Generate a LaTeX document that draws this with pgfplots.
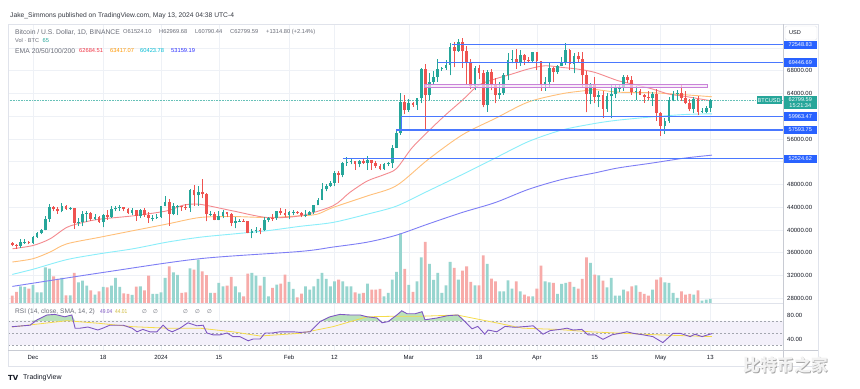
\documentclass[border=0pt]{standalone}
\usepackage{fontspec}
\setmainfont{Liberation Sans}
\newfontfamily\djv{DejaVu Sans}
\newfontfamily\cjk{Noto Sans CJK SC}
\usepackage{pgfplots}
\pgfplotsset{compat=1.18}
\usepackage{pgfplotstable}

\definecolor{upc}{HTML}{26A69A}
\definecolor{dnc}{HTML}{EF5350}
\definecolor{upv}{HTML}{97D5CF}
\definecolor{dnv}{HTML}{F7ABA9}
\definecolor{gridc}{HTML}{EEF1F6}
\definecolor{txt}{HTML}{131722}
\definecolor{gry}{HTML}{6A6D78}
\definecolor{emaA}{HTML}{F48A8F}
\definecolor{emaB}{HTML}{FFC07A}
\definecolor{emaC}{HTML}{8AEEFA}
\definecolor{emaD}{HTML}{7E7EF5}
\definecolor{valA}{HTML}{F23645}
\definecolor{valB}{HTML}{FF9800}
\definecolor{valC}{HTML}{00BCD4}
\definecolor{valD}{HTML}{2A2EFF}
\definecolor{lvl}{HTML}{2962FF}
\definecolor{lvlline}{HTML}{4A78FF}
\definecolor{purl}{HTML}{C982D8}
\definecolor{purf}{HTML}{F4E6F7}
\definecolor{rsil}{HTML}{7E57C2}
\definecolor{rsib}{HTML}{F3F0FA}
\definecolor{rsis}{HTML}{F5DC4A}
\definecolor{obf}{HTML}{B9E2BB}
\definecolor{framec}{HTML}{E0E3EB}
\definecolor{axisc}{HTML}{C8CBD3}
\definecolor{dashc}{HTML}{A3A6AF}

\newcommand\fA{\fontsize{6.75}{7.8}\selectfont}
\newcommand\fTi{\fontsize{6.8}{7.8}\selectfont}
\newcommand\fN{\fontsize{5.75}{6.8}\selectfont}
\newcommand\fT{\fontsize{6}{7}\selectfont}
\newcommand\fL{\fontsize{5.6}{6.6}\selectfont}

\pgfplotsset{
  candle/.style={only marks, mark=none, mark size=0pt, mark options={draw=none,fill=none},
    error bars/.cd, y dir=plus, y explicit, error mark=none},
  base/.style={at={(8bp,86bp)}, anchor=south west, scale only axis,
    width=775bp, height=278bp, xmin=-6.05, xmax=181.6},
}

\pgfplotstableread{
d o h l c v
-3 37240 38400 36880 37830 33.3
-2 37830 38420 37600 37850 32
0 37720 38950 37600 38690 36
1 38690 39680 38650 39460 21.3
2 39460 40200 39280 39970 21.3
3 39970 42420 39950 41980 71.3
4 41980 44490 41420 44080 68.7
7 43290 44700 43080 44170 50
9 43720 44040 43550 43790 15.3
11 41240 42100 40680 41450 41.3
12 41450 43430 40670 42890 44.7
13 42890 43400 41420 43020 34.7
15 41940 42730 41680 42260 16.7
17 41370 42760 40530 42660 32
19 42270 44280 42180 43650 34.7
20 43650 44240 43320 43860 50
21 43860 44400 43400 43990 32
24 43010 43800 42720 43580 16
26 42510 43680 42100 43440 33.3
29 42070 42600 41520 42140 18
30 42140 42900 41960 42280 18
31 42280 44200 42180 44180 21.3
32 44180 45900 44150 44950 50
34 42850 44730 42620 44150 61.3
35 44150 44340 42630 44160 56
38 43930 47250 43200 46970 69.3
40 46110 47700 44300 46630 86.7
43 42780 43260 42440 42840 20
45 41730 43400 41720 42510 40
46 42510 43580 42050 43140 33.3
49 41260 42200 40280 41620 33.3
50 41620 41870 41500 41660 21.3
53 39510 40130 38550 39890 60
54 39890 40560 39480 40080 54.7
56 39930 42200 39820 41810 52
57 41810 42200 41390 42120 13.3
59 42030 43310 41800 43300 36.7
62 42580 43290 41880 43080 42
63 43080 43490 42570 43190 28
66 42580 43500 42260 42660 33.3
67 42660 43400 42570 43090 26.7
68 43090 44380 42780 44340 33.3
69 44340 45600 44330 45290 48
70 45290 48200 45240 47130 60
71 47130 48170 46800 47750 48
72 47750 48590 47550 48290 33.3
73 48290 50330 47710 49960 43.3
75 49700 52040 49270 51800 43.3
76 51800 52820 51300 51920 33.3
77 51920 52580 51550 52130 33.3
79 51650 52360 51000 52120 18.7
81 51780 52980 50620 52260 38.7
85 50740 51700 50580 51560 13.3
86 51560 51950 51280 51730 20
87 51730 54940 50900 54480 46.7
88 54480 57550 54450 57050 62
89 57050 64000 56700 62500 139
91 61130 63100 60800 62390 36
93 62030 63230 61150 63130 43.3
94 63130 68500 62300 68250 91.3
96 63720 67640 62800 66070 78
97 66070 67990 65560 66850 46
98 66850 69990 66080 68300 60
99 68300 68680 67960 68500 20
100 68500 69940 68130 69020 35.3
101 69020 72800 67190 72100 82
103 71470 73650 71330 73070 46.7
107 65300 68900 64540 68390 35.3
110 61940 68100 60780 67840 78
113 63800 65970 63000 64080 23.3
114 64080 67620 63800 67210 23.3
115 67210 71150 66390 69880 45.3
116 69880 71560 69280 69990 28.7
118 69460 71550 68900 70780 23.3
121 69650 71370 69570 71330 13.3
124 65460 66900 64500 65980 43.3
125 65980 69300 65060 68510 41.3
127 67840 69000 67450 68900 18
128 68900 70330 68850 69360 38
129 69360 72800 69040 71620 40
131 69140 71170 67520 70590 32
135 63900 65840 62130 65740 80
137 63420 64360 61610 63790 55.3
139 61280 64130 60800 63470 31.3
140 63470 65480 59600 63820 50
141 63820 65420 63170 64940 14.7
142 64940 65670 64220 64990 14.7
143 64940 67230 64500 66840 26.7
146 64280 65290 62800 64490 35.3
150 63120 64230 61800 63840 26.7
153 58250 59600 56940 59120 41.3
154 59120 63320 58850 62890 40
155 62890 64500 62600 63890 20
156 63890 64620 62900 64030 10
160 61190 63420 60650 63070 16.7
162 60790 61490 60490 60850 4.7
163 60820 61820 60630 61480 6.7
164 61524.10 62969.68 60790.44 62799.59 8
}\upT

\pgfplotstableread{
d o h l c v
-5 37720 37820 37150 37450 14.7
-4 37450 37560 36750 37240 22
-1 37850 38150 37500 37720 28.7
5 44080 44300 43330 43770 53.3
6 43770 44050 42820 43290 48
8 44170 44360 43580 43720 15.3
10 43790 43800 40220 41240 60
14 43020 43090 41660 41940 25.3
16 42260 42440 41250 41370 23.3
18 42660 43490 41800 42270 31.3
22 43990 44050 43330 43730 19.3
23 43730 43950 42760 43010 18
25 43580 43600 41630 42510 32.7
27 43440 43800 42300 42580 25.3
28 42580 43130 41300 42070 54.7
33 44950 45500 40750 42850 73.3
36 44160 44230 43400 43970 20
37 43970 44500 43600 43930 21.3
39 46970 47900 44300 46110 66.7
41 46630 48970 45600 46350 63.3
42 46350 46500 41500 42780 55.7
44 42840 43080 41720 41730 20
47 43140 43200 42200 42740 34.7
48 42740 42930 40680 41260 52
51 41660 41880 41500 41570 13.3
52 41570 41670 39430 39510 58.7
55 40080 40300 39250 39930 34.7
58 42120 42840 41620 42030 30
60 43300 43880 42680 42950 38.7
61 42950 43740 42270 42580 56.7
64 43190 43380 42880 42990 11.3
65 42990 43120 42250 42580 18.7
74 49960 50370 48300 49700 46.7
78 52130 52200 50620 51650 21.3
80 52120 52490 51650 51780 20
82 52260 52370 50620 51840 26.7
83 51840 52050 50930 51300 26.7
84 51300 51540 50500 50740 28
90 62500 63680 60360 61130 68
92 62390 62430 61660 62030 22
95 68250 69170 57700 63720 122
102 72100 73000 68620 71470 70
104 73070 73780 68560 71390 64.7
105 71390 72420 65630 69500 73.3
106 69500 70040 64780 65300 42
108 68390 68920 66600 67600 35.3
109 67600 68120 61560 61940 95.3
111 67840 68240 64530 65500 48.7
112 65500 66650 62260 63800 43.3
117 69990 71770 68360 69460 43.3
119 70780 70920 69080 69900 16.7
120 69900 70360 69560 69650 13.3
122 71330 71350 68100 69700 28.7
123 69700 69700 64500 65460 74.7
126 68510 68720 66000 67840 40
130 71620 71760 68210 69140 42
132 70590 71260 69570 70060 28.7
133 70060 71230 65090 67190 48
134 67190 67930 60660 63900 91.3
136 65740 66870 62300 63420 56.7
138 63790 64500 59770 61280 44.7
144 66840 67200 65860 66410 23.3
145 66410 67080 63800 64280 33.3
147 64490 64800 63790 63770 22
148 63770 63920 62400 63460 18
149 63460 64360 62810 63120 14.7
151 63840 64740 59190 60610 46.7
152 60610 60780 56550 58250 51.3
157 64030 65500 62700 63160 23.3
158 63160 64390 62130 62330 16.7
159 62330 62990 60890 61190 18
161 63070 63470 60190 60790 25.3
}\dnT

\pgfplotstableread{
x r
-5.1 60.5
-0.7 63
1 72
3.4 80
5.3 81
7.7 77
9.4 80
10.2 58
11.4 58
13.3 60
15.7 55
16.9 58
18.6 63
21.8 63
24 58
25.2 52
26.6 56
28.3 52
30 52
31.5 63
32.7 55
33.7 52
35.6 58
37.5 67
39.7 62
41.2 63
42.1 50
43.6 47
45.3 47
47 50
48.4 44
50.1 44
52.1 37
53.3 40
55 40
56.2 50
57.9 50
59.8 52
61.5 52
63 52
64.6 51
67.1 52
69.5 69
71.9 77
74.3 81
76.8 80
79.2 80
80.9 77
83.3 75
84.5 67
86 69
88.1 80
89.3 87
90.6 82
92.5 82
94.2 85.5
94.9 72
97.8 75
100.5 79
102.9 80
104.6 69
106.3 57
107.7 61
109.4 48
110.2 55
112.3 52
114.3 61
116.7 59.5
119.6 61
121.1 62
123.5 48
125.2 54
127.6 56
129.3 58
130.8 55
132.9 56
134.4 47
136.1 47
138 39.5
140.2 47
142.1 49.5
143.8 52
145.3 49.5
147.7 47
150.1 44
152.5 34
155 49.5
156.7 49.5
159.1 44
160.3 48
162 44
164.4 49.04
}\rsiT

\pgfplotstableread{
x s
-5.1 60
8.2 70.5
16.2 66
24.2 60.5
32.4 58
40.4 58
48.4 52
55 45
64.6 49.5
72.6 60.5
80.9 77
88.1 78
94.4 78
102.7 80
110.7 69
118.6 58
126.9 56
134.9 52
142.9 49.5
151.1 47
164.4 44.01
}\smaT

\begin{document}
\begin{tikzpicture}
\useasboundingbox (0bp,0bp) rectangle (860bp,389bp);
\fill[white] (0bp,0bp) rectangle (860bp,389bp);

% grid + price tick labels
\begin{axis}[base, ymin=27174, ymax=76032,
  axis line style={draw=none}, major tick length=0pt, scaled y ticks=false,
  xtick={0,17,31,45,62,73,91,108,122,136,152,164}, xticklabels={},
  ytick={28000,32000,...,72000},
  yticklabels={28000.00,32000.00,36000.00,40000.00,44000.00,48000.00,{},56000.00,{},64000.00,68000.00,{}},
  yticklabel pos=right,
  yticklabel style={font=\fT, text=txt, anchor=west, xshift=4bp, inner sep=0pt},
  grid=major, major grid style={gridc, line width=0.6bp}]
\addplot[draw=none] coordinates {(0,30000)};
\end{axis}

% volume
\begin{axis}[base, ymin=0, ymax=556, hide axis]
\addplot[ybar, bar width=2.8bp, bar shift=0pt, fill=upv, draw=none] table[x=d,y=v]{\upT};
\addplot[ybar, bar width=2.8bp, bar shift=0pt, fill=dnv, draw=none] table[x=d,y=v]{\dnT};
\end{axis}

% price
\begin{axis}[base, ymin=27174, ymax=76032, hide axis, clip=false]
% EMA 200
\addplot[emaD, line width=0.9bp, smooth] coordinates {
(-5,30090) (17.5,32600) (40.4,34960) (64.6,36230) (72.6,37000) (80.9,37860) (88,39100)
(95.6,41040) (103.9,43080) (111.9,44820) (119.9,47130) (128,48870) (136,50030)
(141.6,50900) (149.9,51770) (157.8,52640) (164.4,53159.19)};
% EMA 100
\addplot[emaC, line width=0.9bp, smooth] coordinates {
(-5,32200) (0,33100) (8.2,34800) (16.2,35830) (24.2,36700) (32.4,37860) (40.4,38730)
(48.4,39300) (56.7,39880) (64.6,40640) (72.6,41330) (80.9,42780) (88,44200)
(95.6,46840) (103.9,49740) (111.9,52640) (119.9,55530) (128,57560) (136,58720)
(141.6,59300) (149.9,59880) (157.8,60300) (164.4,60423.78)};
% EMA 50
\addplot[emaB, line width=0.9bp, smooth] coordinates {
(-5,34380) (0,34960) (4.1,36120) (8.2,37570) (16.2,38730) (24.2,39880) (32.4,41040)
(40.4,42200) (48.4,42370) (56.7,42200) (64.6,42490) (68.8,42780) (72.6,43950)
(80.9,45980) (88,47800) (95.6,52350) (103.9,56700) (111.9,59600) (119.9,62490)
(128,63940) (133.7,64500) (136,64700) (141.6,64230) (149.9,64120) (157.8,63770) (164.4,63417.07)};
% EMA 20
\addplot[emaA, line width=0.9bp, smooth] coordinates {
(-5,36700) (0,37280) (4.1,38440) (8.2,40470) (12.1,41330) (16.2,41910) (24.2,42490)
(32.4,43360) (36.3,44350) (40.4,44520) (48.4,43360) (56.7,42200) (64.6,42490)
(72.6,44240) (76.7,46600) (80.9,48600) (84.9,49700) (88,50800) (91.7,54380)
(95.6,57270) (99.8,60170) (103.9,62780) (107.8,65390) (111.9,66550) (116,67420)
(119.9,68290) (124,68870) (128,68580) (131.8,68290) (136,67710) (141.6,66260)
(145.5,65600) (149.9,64800) (153.9,63900) (157.8,63500) (161,63100) (164.4,62684.51)};

% current price dotted
\addplot[upc!70, line width=0.6bp, densely dotted] coordinates {(-6.05,62799.59) (181.6,62799.59)};

% candles: wicks and bodies
\addplot[candle, error bar style={upc, line width=0.8bp}]
  table[x=d, y=l, y error expr=\thisrow{h}-\thisrow{l}] {\upT};
\addplot[candle, error bar style={dnc, line width=0.8bp}]
  table[x=d, y=l, y error expr=\thisrow{h}-\thisrow{l}] {\dnT};
\addplot[candle, error bar style={upc, line width=2.7bp}]
  table[x=d, y=o, y error expr=\thisrow{c}-\thisrow{o}] {\upT};
\addplot[candle, error bar style={dnc, line width=2.7bp}]
  table[x=d, y=c, y error expr=\thisrow{o}-\thisrow{c}] {\dnT};

% purple zone
\addplot[draw=purl, fill=purf, fill opacity=0.7, line width=0.9bp] coordinates {
(94.9,65040) (163.4,65040) (163.4,65570) (94.9,65570) (94.9,65040)};

% horizontal levels
\addplot[lvlline, line width=1.3bp] coordinates {(101.5,72548.83) (181.6,72548.83)};
\addplot[lvlline, line width=1.3bp] coordinates {(98,69446.69) (181.6,69446.69)};
\addplot[lvlline, line width=1.3bp] coordinates {(89.3,59963.47) (181.6,59963.47)};
\addplot[lvlline, line width=1.3bp] coordinates {(88,57593.75) (181.6,57593.75)};
\addplot[lvlline, line width=1.3bp] coordinates {(89.3,57593.75) (89.3,59963.47)};
\addplot[lvlline, line width=1.3bp] coordinates {(75,52524.62) (181.6,52524.62)};

% right-axis labels
\node[fill=lvl, text=white, font=\fL, anchor=west, inner sep=0.5bp, minimum width=33bp,
  minimum height=8.5bp, xshift=0.6bp] at (axis cs:181.6,72548.83) {72548.83};
\node[fill=lvl, text=white, font=\fL, anchor=west, inner sep=0.5bp, minimum width=33bp,
  minimum height=8.5bp, xshift=0.6bp] at (axis cs:181.6,69446.69) {69446.69};
\node[fill=lvl, text=white, font=\fL, anchor=west, inner sep=0.5bp, minimum width=33bp,
  minimum height=8.5bp, xshift=0.6bp] at (axis cs:181.6,59963.47) {59963.47};
\node[fill=lvl, text=white, font=\fL, anchor=west, inner sep=0.5bp, minimum width=33bp,
  minimum height=8.5bp, xshift=0.6bp] at (axis cs:181.6,57593.75) {57593.75};
\node[fill=lvl, text=white, font=\fL, anchor=west, inner sep=0.5bp, minimum width=33bp,
  minimum height=8.5bp, xshift=0.6bp] at (axis cs:181.6,52524.62) {52524.62};
\node[fill=upc, text=white, font=\fL, anchor=east, inner sep=1bp, minimum height=8bp, xshift=-1.2bp]
  at (axis cs:181.6,62799.59) {BTCUSD};
\node[fill=upc, text=white, font=\fL, anchor=north west, inner sep=1.2bp, minimum width=33bp,
  align=center, xshift=0.6bp, yshift=4.3bp] at (axis cs:181.6,62799.59) {62799.59\\[-0.5bp]15:21:34};
\end{axis}

% RSI pane
\begin{axis}[at={(8bp,39bp)}, anchor=south west, scale only axis,
  width=775bp, height=46bp,
  xmin=-6.05, xmax=181.6, ymin=21.7, ymax=98.3,
  axis line style={draw=none}, major tick length=0pt,
  xtick={0,17,31,45,62,73,91,108,122,136,152,164},
  xticklabels={Dec,18,2024,15,Feb,12,Mar,18,Apr,15,May,13},
  xticklabel style={font=\fT, text=txt, yshift=-1.5bp},
  ytick={40,80}, yticklabels={40.00,80.00}, yticklabel pos=right,
  yticklabel style={font=\fT, text=txt, anchor=west, xshift=4bp, inner sep=0pt},
  xmajorgrids, major grid style={gridc, line width=0.6bp}]
\addplot[fill=rsib, draw=none] coordinates {(-6.05,30) (181.6,30) (181.6,70) (-6.05,70) (-6.05,30)};
\addplot[dashc, line width=0.5bp, dash pattern=on 2bp off 2bp] coordinates {(-6.05,70) (181.6,70)};
\addplot[dashc, line width=0.5bp, dash pattern=on 2bp off 2bp] coordinates {(-6.05,50) (181.6,50)};
\addplot[dashc, line width=0.5bp, dash pattern=on 2bp off 2bp] coordinates {(-6.05,30) (181.6,30)};
\addplot[fill=obf, draw=none] table[x=x, y expr={max(\thisrow{r},70)}] {\rsiT}
  -- (axis cs:164.4,70) -- (axis cs:-5.1,70) -- cycle;
\addplot[rsis, line width=0.8bp] table[x=x,y=s] {\smaT};
\addplot[rsil, line width=0.9bp] table[x=x,y=r] {\rsiT};
\end{axis}

\begin{scope}[x=1bp,y=1bp]
% frame lines
\draw[framec, line width=0.6bp] (8,23) rectangle (818,365);
\draw[framec, line width=0.6bp] (8,85.5) -- (783,85.5);
\draw[axisc, line width=0.6bp] (783,23) -- (783,365);
\draw[axisc, line width=0.6bp] (8,38.5) -- (818,38.5);

% USD box
\draw[framec, rounded corners=1.5bp, fill=white] (785,349) rectangle (817,363);
\node[anchor=west, font=\fL, text=txt, inner sep=0pt] at (789,356) {USD};

% header texts
\node[anchor=west, font=\fA, text=txt!85, inner sep=0pt] at (10,373) {Jake\_Simmons published on TradingView.com, May 13, 2024 04:38 UTC-4};
\node[anchor=west, font=\fTi, text=gry, inner sep=0pt] at (15,357) {Bitcoin / U.S. Dollar, 1D, BINANCE};
\node[anchor=west, font=\fN, text=gry, inner sep=0pt] at (123,357) {O61524.10};
\node[anchor=west, font=\fN, text=gry, inner sep=0pt] at (159,357) {H62969.68};
\node[anchor=west, font=\fN, text=gry, inner sep=0pt] at (195,357) {L60790.44};
\node[anchor=west, font=\fN, text=gry, inner sep=0pt] at (230,357) {C62799.59};
\node[anchor=west, font=\fN, text=gry, inner sep=0pt] at (266,357) {+1314.80 (+2.14\%)};
\node[anchor=west, font=\fontsize{5.6}{6.6}\selectfont, text=gry, inner sep=0pt] at (15,348) {Vol · BTC};
\node[anchor=west, font=\fN, text=upc, inner sep=0pt] at (42.5,348) {65};
\node[anchor=west, font=\fTi, text=gry, inner sep=0pt] at (15,338) {EMA 20/50/100/200};
\node[anchor=west, font=\fN, text=valA, inner sep=0pt] at (79,338) {62684.51};
\node[anchor=west, font=\fN, text=valB, inner sep=0pt] at (110,338) {63417.07};
\node[anchor=west, font=\fN, text=valC, inner sep=0pt] at (140,338) {60423.78};
\node[anchor=west, font=\fN, text=valD, inner sep=0pt] at (171,338) {53159.19};

% RSI legend
\node[anchor=west, font=\fontsize{6.6}{7.6}\selectfont, text=gry, inner sep=0pt] at (15,77) {RSI (14, close, SMA, 14, 2)};
\node[anchor=west, font=\fN, xscale=0.85, text=rsil, inner sep=0pt] at (100,77) {49.04};
\node[anchor=west, font=\fN, xscale=0.85, text=rsis!85!black, inner sep=0pt] at (115,77) {44.01};
\node[anchor=west, font=\djv\fontsize{5.5}{6}\selectfont, text=gry, inner sep=0pt] at (142,77) {∅};
\node[anchor=west, font=\djv\fontsize{5.5}{6}\selectfont, text=gry, inner sep=0pt] at (153,77) {∅};
\node[anchor=west, font=\djv\fontsize{5.5}{6}\selectfont, text=gry, inner sep=0pt] at (183,77) {∅};
\node[anchor=west, font=\djv\fontsize{5.5}{6}\selectfont, text=gry, inner sep=0pt] at (195,77) {∅};
\node[anchor=west, font=\djv\fontsize{5.5}{6}\selectfont, text=gry, inner sep=0pt] at (207,77) {∅};

% footer
\node[anchor=west, font=\djv\bfseries\fontsize{7}{8}\selectfont, text=txt, inner sep=0pt] at (8,11) {TV};
\node[anchor=west, font=\fontsize{7}{8}\selectfont, text=txt, inner sep=0pt] at (23,11) {TradingView};

% watermark
\node[anchor=west, font=\cjk\bfseries\fontsize{17}{18}\selectfont, text=gray!70, inner sep=0pt] at (743.8,23.2) {比特币之家};
\node[anchor=west, font=\cjk\bfseries\fontsize{17}{18}\selectfont, text=white!90!gray, inner sep=0pt] at (743,24) {比特币之家};
\end{scope}
\end{tikzpicture}
\end{document}
